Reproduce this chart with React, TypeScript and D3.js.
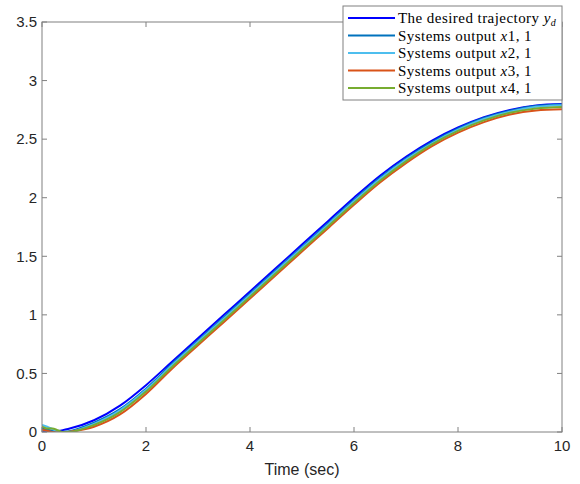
import React from "react";
import * as d3 from "d3";

// Time grid (sec)
const time = [0, 0.1, 0.2, 0.3, 0.4, 0.5, 1, 1.5, 2, 2.5, 3, 3.5, 4, 4.5, 5, 5.5, 6, 6.5, 7, 7.5, 8, 8.5, 9, 9.5, 10];

// Desired trajectory y_d
const yDesired = [0, 0.001, 0.004, 0.009, 0.016, 0.025, 0.1, 0.225, 0.4, 0.6, 0.8, 1.0, 1.2, 1.4, 1.6, 1.8, 2.0, 2.188, 2.35, 2.488, 2.6, 2.688, 2.75, 2.788, 2.8];

// Agent outputs x_{i,1}
const x1 = [0.03, 0.02, 0.01, 0.0, 0.0, 0.005, 0.08, 0.195, 0.37, 0.58, 0.78, 0.98, 1.18, 1.38, 1.58, 1.78, 1.98, 2.17, 2.335, 2.475, 2.59, 2.68, 2.742, 2.782, 2.795];
const x2 = [0.06, 0.045, 0.025, 0.005, 0.0, 0.0, 0.07, 0.185, 0.36, 0.57, 0.77, 0.97, 1.17, 1.37, 1.57, 1.77, 1.97, 2.16, 2.325, 2.465, 2.58, 2.672, 2.735, 2.776, 2.79];
const x3 = [0.02, 0.01, 0.0, -0.005, -0.005, 0.0, 0.045, 0.15, 0.325, 0.54, 0.74, 0.94, 1.14, 1.34, 1.54, 1.74, 1.94, 2.13, 2.295, 2.44, 2.555, 2.645, 2.71, 2.745, 2.755];
const x4 = [0.045, 0.03, 0.03, 0.015, 0.0, 0.0, 0.06, 0.17, 0.345, 0.555, 0.755, 0.955, 1.155, 1.355, 1.555, 1.755, 1.955, 2.145, 2.31, 2.455, 2.57, 2.66, 2.725, 2.762, 2.775];

const xTicks = [0, 2, 4, 6, 8, 10];
const yTicks = [0, 0.5, 1, 1.5, 2, 2.5, 3, 3.5];

const seriesNames = ["x1", "x2", "x3", "x4"];
const seriesValues = [x1, x2, x3, x4];
const seriesColors = ["#0072BD", "#4DBEEE", "#D95319", "#77AC30"];
const desiredColor = "#0000FF";

const W = 580;
const H = 484;
const left = 42;
const right = 562;
const top = 22;
const bottom = 432;

export default function App() {
  const x = d3.scaleLinear().domain([0, 10]).range([left, right]);
  const y = d3.scaleLinear().domain([0, 3.5]).range([bottom, top]);
  const line = d3
    .line<number>()
    .x((_, i) => x(time[i]))
    .y((d) => y(d))
    .curve(d3.curveMonotoneX);

  const axisColor = "#808080";
  const textColor = "#262626";
  const sans = "'Liberation Sans', Arial, Helvetica, sans-serif";
  const serif = "'Liberation Serif', 'DejaVu Serif', 'Times New Roman', serif";
  const tickLen = 5;

  const legendX = 343;
  const legendY = 6;
  const legendW = 219;
  const legendH = 94;
  const rowY = (i: number) => legendY + 12 + i * 17.5;
  const legendFont = { fontFamily: serif, fontSize: 15, letterSpacing: 0.45, fill: "#000" };

  return (
    <svg width={W} height={H} style={{ position: "absolute", left: 0, top: 0, background: "#fff" }}>
      <defs>
        <clipPath id="plotArea">
          <rect x={left} y={top} width={right - left} height={bottom - top} />
        </clipPath>
      </defs>
      <rect x={0} y={0} width={W} height={H} fill="#fff" />

      {/* curves */}
      <g clipPath="url(#plotArea)" fill="none" strokeWidth={2} strokeLinejoin="round">
        <path d={line(yDesired) ?? ""} stroke={desiredColor} />
        {seriesValues.map((vals, k) => (
          <path key={seriesNames[k]} d={line(vals) ?? ""} stroke={seriesColors[k]} />
        ))}
      </g>

      {/* axes box */}
      <rect x={left} y={top} width={right - left} height={bottom - top} fill="none" stroke={axisColor} strokeWidth={1} />

      {/* x ticks */}
      {xTicks.map((t) => (
        <g key={"xt" + t}>
          <line x1={x(t)} x2={x(t)} y1={bottom} y2={bottom - tickLen} stroke={axisColor} />
          <line x1={x(t)} x2={x(t)} y1={top} y2={top + tickLen} stroke={axisColor} />
          <text x={x(t)} y={bottom + 19} textAnchor="middle" fontFamily={sans} fontSize={15} fill={textColor}>
            {t}
          </text>
        </g>
      ))}

      {/* y ticks */}
      {yTicks.map((t) => (
        <g key={"yt" + t}>
          <line x1={left} x2={left + tickLen} y1={y(t)} y2={y(t)} stroke={axisColor} />
          <line x1={right} x2={right - tickLen} y1={y(t)} y2={y(t)} stroke={axisColor} />
          <text x={left - 5} y={y(t)} dy="0.35em" textAnchor="end" fontFamily={sans} fontSize={15} fill={textColor}>
            {t}
          </text>
        </g>
      ))}

      <text x={(left + right) / 2} y={475} textAnchor="middle" fontFamily={sans} fontSize={16} fill={textColor}>
        Time (sec)
      </text>

      {/* legend */}
      <g>
        <rect x={legendX} y={legendY} width={legendW} height={legendH} fill="#fff" stroke={axisColor} strokeWidth={1} />
        <line x1={348} x2={395} y1={rowY(0)} y2={rowY(0)} stroke={desiredColor} strokeWidth={2} />
        <text x={398} y={rowY(0)} dy="0.35em" {...legendFont}>
          The desired trajectory <tspan fontStyle="italic">y</tspan>
          <tspan fontStyle="italic" fontSize={10} dy={3} letterSpacing={0}>d</tspan>
        </text>
        {seriesNames.map((name, k) => (
          <g key={"lg" + name}>
            <line x1={348} x2={395} y1={rowY(k + 1)} y2={rowY(k + 1)} stroke={seriesColors[k]} strokeWidth={2} />
            <text x={398} y={rowY(k + 1)} dy="0.35em" {...legendFont}>
              Systems output <tspan fontStyle="italic">x</tspan>
              {name.slice(1)}, 1
            </text>
          </g>
        ))}
      </g>
    </svg>
  );
}
